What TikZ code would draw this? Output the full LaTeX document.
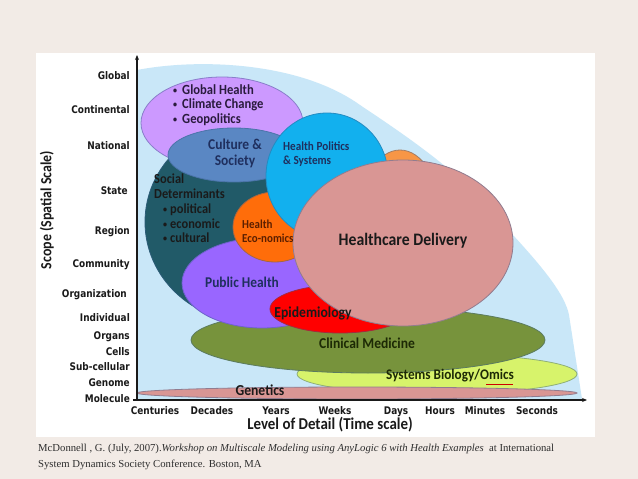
\documentclass[tikz,border=0pt]{standalone}
\usepackage{fontspec}
\setmainfont{Liberation Serif}
\newfontfamily\axfont[FakeStretch=0.85]{DejaVu Sans}
\newfontfamily\calfont[FakeStretch=0.9]{Carlito}
\usetikzlibrary{arrows.meta}
\newcommand{\smbul}{\raisebox{0.5pt}{\fontsize{9}{9}\selectfont •}}
\definecolor{bgb}{HTML}{F2EBE6}
\definecolor{lblue}{HTML}{C9E7F8}
\definecolor{outl}{HTML}{385D8A}
\definecolor{cteal}{HTML}{215A68}
\definecolor{cgh}{HTML}{CC99FF}
\definecolor{ccult}{HTML}{5A87C3}
\definecolor{chp}{HTML}{12B0EE}
\definecolor{che}{HTML}{FF6D0A}
\definecolor{corg}{HTML}{F79646}
\definecolor{cph}{HTML}{9966FF}
\definecolor{cepi}{HTML}{FF0000}
\definecolor{cclin}{HTML}{77933C}
\definecolor{csys}{HTML}{D7F36B}
\definecolor{cpink}{HTML}{D99694}
\definecolor{tnavy}{HTML}{1F2F5E}
\definecolor{tpurp}{HTML}{2A1B3D}
\definecolor{tdark}{HTML}{1A1A1A}
\definecolor{tbrown}{HTML}{5C1F00}
\definecolor{tgreen}{HTML}{1D2A05}
\definecolor{capt}{HTML}{2E2E2E}
\begin{document}
\begin{tikzpicture}[x=1pt,y=-1pt,
  ell/.style={fill=#1, draw=#1!55!outl, line width=0.8pt},
  ax/.style={font=\axfont\bfseries\fontsize{10.5}{12}\selectfont, text=tdark, inner sep=0pt},
  cl/.style={font=\calfont\bfseries\fontsize{#1}{#1}\selectfont, inner sep=0pt},
  axline/.style={line width=1.1pt, draw=tdark, -{Stealth[length=5pt,width=4pt]}}
]
\useasboundingbox (0,0) rectangle (638,479);
\fill[bgb] (0,0) rectangle (638,479);
\fill[white] (36,53) rectangle (595,437);

% light blue region
\fill[lblue] (137,399) -- (137,70) .. controls (200,58) and (300,62) .. (360,105)
  .. controls (420,145) and (470,180) .. (513,235)
  .. controls (545,270) and (565,295) .. (569,315) -- (582,399) -- cycle;

% ellipses (back to front)
\filldraw[ell=csys] (437,374) ellipse [x radius=140, y radius=20];
\filldraw[ell=cclin] (368,340) ellipse [x radius=177, y radius=33];
\filldraw[ell=cteal] (250,222) ellipse [x radius=105, y radius=100];
\filldraw[ell=cgh] (222,123) ellipse [x radius=81, y radius=46];
\filldraw[ell=ccult] (234,155) ellipse [x radius=66, y radius=27];
\filldraw[ell=cph] (262,283) ellipse [x radius=80, y radius=45];
\filldraw[ell=cepi] (340,309) ellipse [x radius=70, y radius=24];
\filldraw[ell=che] (275,227) ellipse [x radius=42, y radius=35];
\filldraw[ell=corg] (400,215) ellipse [x radius=40, y radius=65];
\filldraw[ell=chp] (327,176) ellipse [x radius=61, y radius=63];
\filldraw[ell=cpink] (403,243) ellipse [x radius=110, y radius=83];
\filldraw[ell=cpink] (357,393) ellipse [x radius=220, y radius=6];

% axes
\coordinate (origin) at (137,400);
\coordinate (ytip) at (137,55);
\coordinate (xstart) at (133,400);
\coordinate (xtip) at (587,400);
\draw[axline] (origin) -- (ytip);
\draw[axline] (xstart) -- (xtip);

% y labels
\node[ax, anchor=mid east] (lglobal) at (130,77) {Global};
\node[ax, anchor=mid east] (lcont) at (130,111) {Continental};
\node[ax, anchor=mid east] (lnat) at (130,147) {National};
\node[ax, anchor=mid east] (lstate) at (128,192) {State};
\node[ax, anchor=mid east] (lregion) at (130,232) {Region};
\node[ax, anchor=mid east] (lcomm) at (130,265) {Community};
\node[ax, anchor=mid east] (lorg) at (127,295) {Organization};
\node[ax, anchor=mid east] (lind) at (130,319) {Individual};
\node[ax, anchor=mid east] (lorgans) at (130,337) {Organs};
\node[ax, anchor=mid east] (lcells) at (130,353) {Cells};
\node[ax, anchor=mid east] (lsub) at (130,368) {Sub-cellular};
\node[ax, anchor=mid east] (lgen) at (130,384) {Genome};
\node[ax, anchor=mid east] (lmol) at (130,400) {Molecule};

% x labels
\node[ax, anchor=mid] (xcent) at (155,412) {Centuries};
\node[ax, anchor=mid] (xdec) at (212,412) {Decades};
\node[ax, anchor=mid] (xyears) at (276,412) {Years};
\node[ax, anchor=mid] (xweeks) at (335,412) {Weeks};
\node[ax, anchor=mid] (xdays) at (396,412) {Days};
\node[ax, anchor=mid] (xhours) at (440,412) {Hours};
\node[ax, anchor=mid] (xmin) at (485,412) {Minutes};
\node[ax, anchor=mid] (xsec) at (537,412) {Seconds};

% axis titles
\node[cl=16.6, text=tdark, anchor=mid] (xtitle) at (330,427) {Level of Detail (Time scale)};
\node[cl=15.5, text=tdark, anchor=mid, rotate=90] (ytitle) at (49,210) {Scope (Spatial Scale)};

% ellipse texts
\node[cl=14, text=tpurp, anchor=mid west] (gh1) at (173,92) {\smbul\hspace{5pt}Global Health};
\node[cl=14, text=tpurp, anchor=mid west] (gh2) at (173,106) {\smbul\hspace{5pt}Climate Change};
\node[cl=14, text=tpurp, anchor=mid west] (gh3) at (173,121) {\smbul\hspace{5pt}Geopolitics};
\node[cl=15, text=tnavy, anchor=mid] (cu1) at (235,147) {Culture \&};
\node[cl=15, text=tnavy, anchor=mid] (cu2) at (235,163) {Society};
\node[cl=12.4, text=tnavy, anchor=mid west] (hp1) at (283,148) {Health Politics};
\node[cl=12.4, text=tnavy, anchor=mid west] (hp2) at (283,162) {\& Systems};
\node[cl=13.8, text=tdark, anchor=mid west] (sd1) at (154,181) {Social};
\node[cl=13.8, text=tdark, anchor=mid west] (sd2) at (154,196) {Determinants};
\node[cl=13.8, text=tdark, anchor=mid west] (sd3) at (163,211) {\smbul\hspace{3pt}political};
\node[cl=13.8, text=tdark, anchor=mid west] (sd4) at (163,226) {\smbul\hspace{3pt}economic};
\node[cl=13.8, text=tdark, anchor=mid west] (sd5) at (163,240) {\smbul\hspace{3pt}cultural};
\node[cl=12.2, text=tbrown, anchor=mid west] (he1) at (242,226) {Health};
\node[cl=12.2, text=tbrown, anchor=mid west] (he2) at (242,240) {Eco-nomics};
\node[cl=17.5, text=tdark, anchor=mid] (hd) at (403,243) {Healthcare Delivery};
\node[cl=14.9, text=tnavy, anchor=mid] (ph) at (242,285) {Public Health};
\node[cl=15.2, text=tdark, anchor=mid] (epi) at (313,315) {Epidemiology};
\node[cl=15.1, text=tgreen, anchor=mid] (clin) at (367,346) {Clinical Medicine};
\node[cl=14.7, text=tgreen, anchor=mid] (sys) at (450,377) {Systems Biology/Omics};
\draw[red!80!black, line width=0.6pt] ([xshift=-28pt,yshift=-2.5pt]sys.south east) -- ([xshift=-1pt,yshift=-2.5pt]sys.south east);
\node[cl=15.2, text=tdark, anchor=mid] (gen) at (260,393) {Genetics};

% caption
\node[font=\fontsize{10.7}{12}\selectfont, text=capt, anchor=base west, inner sep=0pt] (cap1) at (38,451)
  {McDonnell , G. (July, 2007).\textit{Workshop on Multiscale Modeling using AnyLogic 6 with Health Examples}\ \ at International};
\node[font=\fontsize{10.7}{12}\selectfont, text=capt, anchor=base west, inner sep=0pt] (cap2) at (38,467)
  {System Dynamics Society Conference. Boston, MA};
\end{tikzpicture}
\end{document}
